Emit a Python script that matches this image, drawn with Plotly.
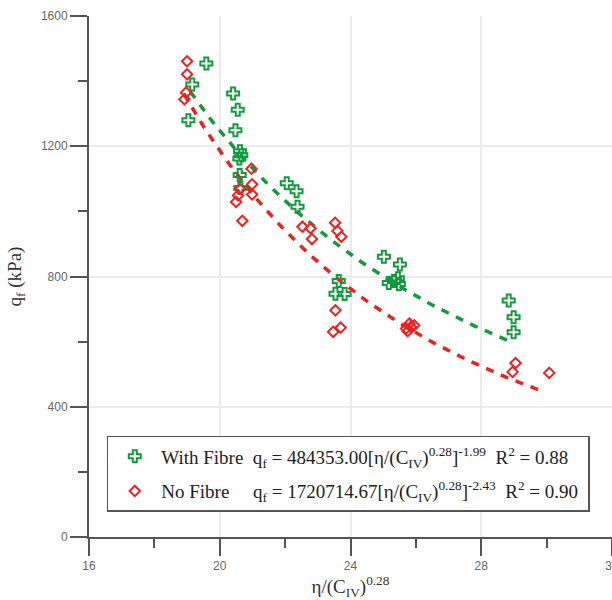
import numpy as np
import plotly.graph_objects as go

# ---- data ----
fibre_x = [19.59, 19.16, 19.04, 20.41, 20.55, 20.48, 20.62, 20.66, 20.60, 20.61, 20.63,
           22.05, 22.35, 22.38, 23.64, 23.54, 23.82, 25.02, 25.51, 25.17, 25.33, 25.45,
           25.48, 28.84, 28.99, 28.99]
fibre_y = [1454, 1390, 1280, 1362, 1312, 1249, 1185, 1172, 1162, 1112, 1072,
           1086, 1062, 1014, 786, 747, 746, 861, 837, 780, 786, 795,
           777, 726, 675, 629]

nofibre_x = [19.00, 19.00, 18.97, 18.92, 20.97, 20.99, 20.99, 20.62, 20.56, 20.50, 20.69,
             22.53, 22.78, 22.82, 23.53, 23.60, 23.72, 23.54, 23.47, 23.70,
             25.70, 25.80, 25.85, 25.95, 25.75, 29.05, 28.96, 30.08]
nofibre_y = [1461, 1421, 1365, 1344, 1131, 1083, 1052, 1068, 1049, 1029, 971,
             953, 948, 915, 965, 940, 922, 696, 630, 643,
             640, 655, 645, 650, 632, 534, 507, 504]

# fitted power laws as stated in the legend
fibre_a, fibre_b, fibre_xmin, fibre_xmax = 484353.00, -1.99, 19.1, 28.9
nofibre_a, nofibre_b, nofibre_xmin, nofibre_xmax = 1720714.67, -2.43, 18.9, 29.9

x_ticks = [16, 20, 24, 28, 32]
y_ticks = [0, 400, 800, 1200, 1600]

GREEN = "#129a3e"
RED = "#f02020"
AXIS = "#555555"
SERIF = "Liberation Serif, Times New Roman, serif"

fx = np.linspace(fibre_xmin, fibre_xmax, 80)
nx = np.linspace(nofibre_xmin, nofibre_xmax, 80)

fig = go.Figure()
fig.add_trace(go.Scatter(x=fx, y=fibre_a * fx ** fibre_b, mode="lines",
                         line=dict(color=GREEN, width=3.5, dash="8px,8px"),
                         showlegend=False, hoverinfo="skip"))
fig.add_trace(go.Scatter(x=nx, y=nofibre_a * nx ** nofibre_b, mode="lines",
                         line=dict(color=RED, width=3.5, dash="8px,8px"),
                         showlegend=False, hoverinfo="skip"))

sp = "\u00a0"
fig.add_trace(go.Scatter(
    x=fibre_x, y=fibre_y, mode="markers",
    marker=dict(symbol="cross-open", size=10, color=GREEN, line=dict(width=2, color=GREEN)),
    name="With Fibre" + sp * 2 + "q<sub>f</sub> = 484353.00[η/(C<sub>IV</sub>)<sup>0.28</sup>]<sup>-1.99</sup>" + sp * 2 + "R<sup>2</sup> = 0.88" + sp,
    legendgroup="a"))
fig.add_trace(go.Scatter(
    x=nofibre_x, y=nofibre_y, mode="markers",
    marker=dict(symbol="diamond-open", size=8, color=RED, line=dict(width=2, color=RED)),
    name="No Fibre" + sp * 5 + "q<sub>f</sub> = 1720714.67[η/(C<sub>IV</sub>)<sup>0.28</sup>]<sup>-2.43</sup>" + sp * 2 + "R<sup>2</sup> = 0.90" + sp,
    legendgroup="b"))

axis_common = dict(
    showline=True, linecolor=AXIS, linewidth=2,
    ticks="outside", ticklen=17, tickwidth=1.5, tickcolor=AXIS,
    showgrid=True, gridcolor="#ebebeb", gridwidth=1.5,
    zeroline=False,
    tickfont=dict(family="Liberation Sans, Arial, sans-serif", size=12, color="#666666"),
)

fig.update_xaxes(range=[16, 32], tickvals=x_ticks, ticktext=[str(v) for v in x_ticks],
                 ticklabeloverflow="allow",
                 minor=dict(ticks="outside", ticklen=9, tickwidth=1.5, tickcolor=AXIS,
                            dtick=2, tick0=16, showgrid=False),
                 title=dict(text="η/(C<sub>IV</sub>)<sup>0.28</sup>",
                            font=dict(family=SERIF, size=19, color="#333333"), standoff=9),
                 **axis_common)
fig.update_yaxes(range=[0, 1600], tickvals=y_ticks, ticktext=[str(v) for v in y_ticks],
                 minor=dict(ticks="outside", ticklen=9, tickwidth=1.5, tickcolor=AXIS,
                            dtick=200, tick0=0, showgrid=False),
                 title=dict(text="q<sub>f</sub> (kPa)",
                            font=dict(family=SERIF, size=19, color="#333333"), standoff=14),
                 **axis_common)

fig.update_layout(
    width=612, height=600,
    margin=dict(l=89, r=0, t=16, b=63, autoexpand=False),
    paper_bgcolor="white", plot_bgcolor="white",
    legend=dict(x=0.034, y=0.194, xanchor="left", yanchor="top",
                bordercolor=AXIS, borderwidth=1.5, bgcolor="white",
                font=dict(family=SERIF, size=19, color="#222222"),
                itemwidth=43,
                tracegroupgap=7, traceorder="grouped"),
)

fig.write_html("out.html", config={"displayModeBar": False},
               post_script="document.body.style.margin='0px';document.body.style.overflow='hidden';")
